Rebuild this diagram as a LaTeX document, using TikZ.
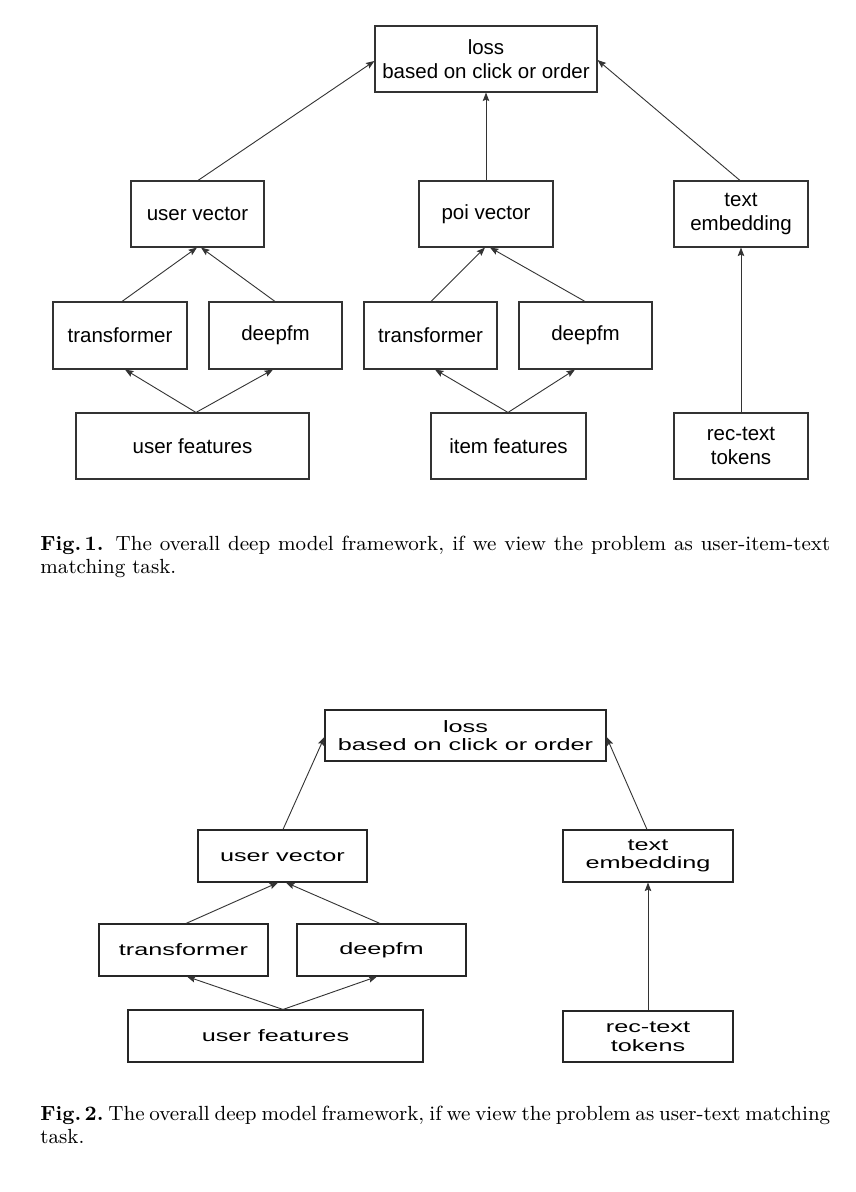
\documentclass[tikz,border=0pt]{standalone}
\usepackage{fontspec}
\usetikzlibrary{arrows.meta,calc}
\newfontfamily\diagfont{Liberation Sans}
\newfontfamily\diagwide[FakeStretch=1.53]{Liberation Sans}
\begin{document}
\begin{tikzpicture}[x=1pt,y=-1pt,
  boxA/.style={draw=black!80,line width=1.1pt,inner sep=0pt,align=center,
    font=\diagfont\fontsize{20.5}{24}\selectfont},
  boxB/.style={draw=black!85,line width=1.1pt,inner sep=0pt,align=center,
    font=\diagwide\fontsize{16.5}{18.5}\selectfont},
  arr/.style={draw=black!80,line width=0.9pt,-{Stealth[length=8.5pt,width=6.5pt,inset=1.5pt]}},
  figcap/.style={anchor=base west,inner sep=0pt,text width=347pt,align=justify,
    font=\fontsize{9}{10.2}\selectfont,scale=2.276,transform shape}]
\fill[white] (0,0) rectangle (856,1192);
\useasboundingbox (0,0) rectangle (856,1192);

% ---------- Figure 1 ----------
\node[boxA,minimum width=222pt,minimum height=66pt] (loss1) at (486,59) {loss\\based on click or order};
\node[boxA,minimum width=133pt,minimum height=66pt] (uv1) at (197.5,214) {user vector};
\node[boxA,minimum width=134pt,minimum height=67pt] (tr1) at (120,335.5) {transformer};
\node[boxA,minimum width=133pt,minimum height=67pt] (dfm1) at (275.5,335.5) {deepfm};
\node[boxA,minimum width=233pt,minimum height=66pt] (uf1) at (192.5,446) {user features};
\node[boxA,minimum width=134pt,minimum height=66pt] (poi1) at (486,214) {poi vector};
\node[boxA,minimum width=133pt,minimum height=67pt] (tr1b) at (430.5,335.5) {transformer};
\node[boxA,minimum width=133pt,minimum height=67pt] (dfm1b) at (585.5,335.5) {deepfm};
\node[boxA,minimum width=155pt,minimum height=66pt] (if1) at (508.5,446) {item features};
\node[boxA,minimum width=134pt,minimum height=66pt] (te1) at (741,214) {text\\embedding};
\node[boxA,minimum width=134pt,minimum height=66pt] (rt1) at (741,446) {rec-text\\tokens};

\draw[arr] ([xshift=3.5pt]uf1.north) -- ([xshift=5pt]tr1.south);
\draw[arr] ([xshift=3.5pt]uf1.north) -- ([xshift=-2.5pt]dfm1.south);
\draw[arr] ([xshift=2pt]tr1.north) -- ([xshift=-0.5pt]uv1.south);
\draw[arr] ([xshift=-0.5pt]dfm1.north) -- ([xshift=3.5pt]uv1.south);
\draw[arr] ([xshift=0.5pt]uv1.north) -- ([yshift=-2pt]loss1.west);
\draw[arr] ([xshift=-0.5pt]if1.north) -- ([xshift=4.5pt]tr1b.south);
\draw[arr] ([xshift=-0.5pt]if1.north) -- ([xshift=-10.5pt]dfm1b.south);
\draw[arr] ([xshift=0.5pt]tr1b.north) -- ([xshift=-1pt]poi1.south);
\draw[arr] ([xshift=-0.5pt]dfm1b.north) -- ([xshift=4pt]poi1.south);
\draw[arr] (poi1.north) -- (loss1.south);
\draw[arr] (rt1.north) -- (te1.south);
\draw[arr] ([xshift=-1pt]te1.north) -- ([yshift=-1pt]loss1.east);

\node[figcap] (cap1) at (40,550) {\exhyphenpenalty=10000 \hyphenpenalty=10000
  \textbf{Fig.\,1.} The overall deep model framework, if we view the problem as user-item-text\linebreak matching task.};

% ---------- Figure 2 ----------
\node[boxB,minimum width=281pt,minimum height=51pt] (loss2) at (465.5,735.5) {loss\\based on click or order};
\node[boxB,minimum width=169pt,minimum height=52pt] (uv2) at (282.5,856) {user vector};
\node[boxB,minimum width=169pt,minimum height=52pt] (tr2) at (183.5,950) {transformer};
\node[boxB,minimum width=169pt,minimum height=52pt] (dfm2) at (381.5,950) {deepfm};
\node[boxB,minimum width=295pt,minimum height=52pt] (uf2) at (275.5,1036) {user features};
\node[boxB,minimum width=170pt,minimum height=52pt] (te2) at (648,856) {text\\embedding};
\node[boxB,minimum width=170pt,minimum height=51pt] (rt2) at (648,1036.5) {rec-text\\tokens};

\draw[arr] ([xshift=7.5pt]uf2.north) -- ([xshift=3.5pt]tr2.south);
\draw[arr] ([xshift=7.5pt]uf2.north) -- ([xshift=-4.5pt]dfm2.south);
\draw[arr] ([xshift=2.5pt]tr2.north) -- ([xshift=-4.5pt]uv2.south);
\draw[arr] ([xshift=-1.5pt]dfm2.north) -- ([xshift=3.5pt]uv2.south);
\draw[arr] ([xshift=0.5pt]uv2.north) -- ([yshift=-1.5pt]loss2.west);
\draw[arr] (rt2.north) -- (te2.south);
\draw[arr] ([xshift=-1pt]te2.north) -- ([yshift=-1.5pt]loss2.east);

\node[figcap] (cap2) at (40,1120) {\exhyphenpenalty=10000 \hyphenpenalty=10000
  \spaceskip=0.3em plus 0.1em minus 0.2em \xspaceskip=0.3em plus 0.1em minus 0.2em
  \textbf{Fig.\,2.} The overall deep model framework, if we view the problem as user-text matching\linebreak task.};
\end{tikzpicture}
\end{document}
